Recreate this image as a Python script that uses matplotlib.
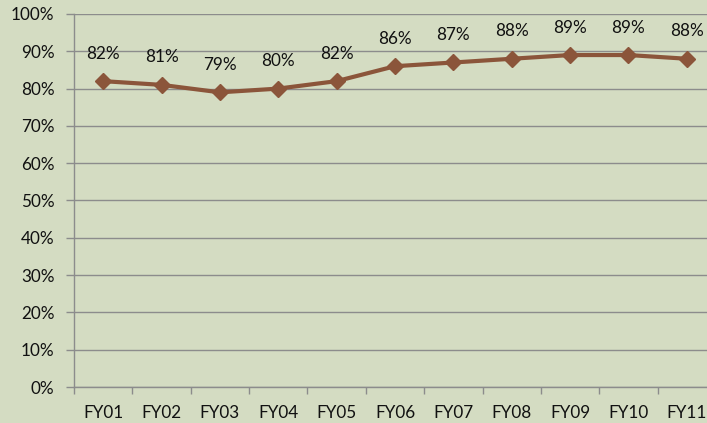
import matplotlib
matplotlib.use("Agg")
import matplotlib.pyplot as plt
import numpy as np

categories = ["FY01", "FY02", "FY03", "FY04", "FY05", "FY06", "FY07", "FY08", "FY09", "FY10", "FY11"]
values = [82, 81, 79, 80, 82, 86, 87, 88, 89, 89, 88]
yticks = [0, 10, 20, 30, 40, 50, 60, 70, 80, 90, 100]

plt.rcParams['font.family'] = ['Lato', 'DejaVu Sans']

W, H = 707, 423
fig = plt.figure(figsize=(W/100, H/100), dpi=100)
bg = "#d4dcc2"
fig.patch.set_facecolor(bg)

left, right, top, bottom = 74, 716, 14, 387
ax = fig.add_axes([left/W, 1-bottom/H, (right-left)/W, (bottom-top)/H])
ax.set_facecolor("none")

x = np.arange(len(categories))
ax.plot(x, values, color="#8b553a", linewidth=3, marker="D", markersize=8.5,
        markerfacecolor="#8b553a", markeredgecolor="#8b553a", zorder=3)
for xi, v in zip(x, values):
    ax.annotate(f"{v}%", (xi, v), xytext=(0, 14), textcoords="offset points",
                ha="center", va="bottom", fontsize=12.3, color="#111111")

ax.set_xlim(-0.5, len(categories)-0.5)
ax.set_ylim(0, 100)
ax.set_yticks(yticks)
ax.set_yticklabels([f"{t}%" for t in yticks], fontsize=12.3, color="#111111")
ax.set_xticks(x)
ax.set_xticklabels(categories, fontsize=12.3, color="#111111")
ax.set_xticks(np.arange(-0.5, len(categories), 1), minor=True)
ax.tick_params(axis="x", which="major", length=0, pad=13)
ax.tick_params(axis="x", which="minor", length=5, color="#8c8c8c", width=1, direction="out")
ax.tick_params(axis="y", length=6, color="#8c8c8c", width=1, pad=8)
ax.yaxis.grid(True, color="#8c8c8c", linewidth=1)
ax.set_axisbelow(True)
for s in ["top", "right"]:
    ax.spines[s].set_visible(False)
for s in ["left", "bottom"]:
    ax.spines[s].set_color("#8c8c8c")
    ax.spines[s].set_linewidth(1)

fig.savefig("out.png", dpi=100, facecolor=bg)
